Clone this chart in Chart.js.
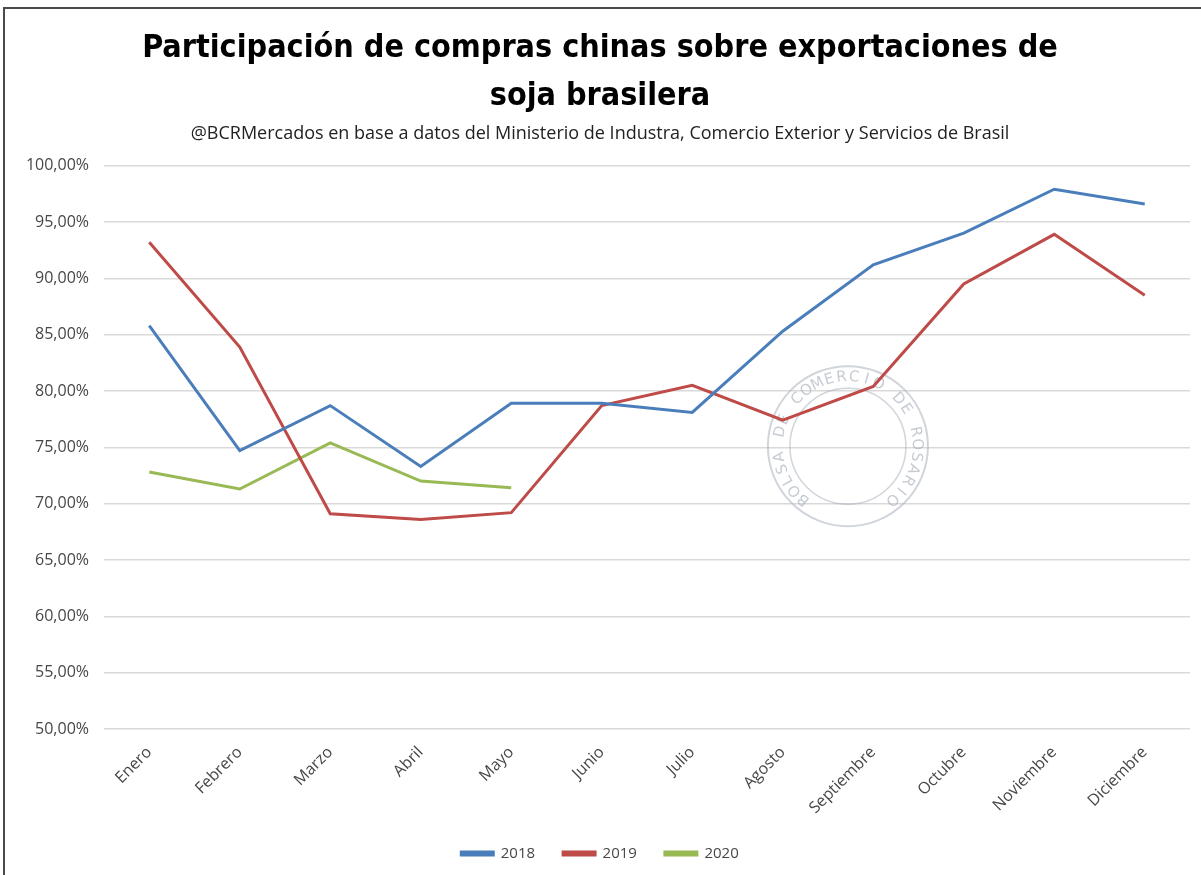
<!DOCTYPE html>
<html>
<head>
<meta charset="utf-8">
<script src="https://cdn.jsdelivr.net/npm/chart.js"></script>
<style>
  body { margin: 0; background: #fff; }
  #frame { position: absolute; left: 3px; top: 7px; width: 1400px; height: 1000px;
           border-left: 2px solid #4a4a4a; border-top: 2px solid #4a4a4a; }
  #wrap { position: absolute; left: 0; top: 0; width: 1201px; height: 875px; }
</style>
</head>
<body>
<div id="frame"></div>
<div id="wrap"><canvas id="myChart" width="1201" height="875"></canvas></div>
<script>
const meses = ["Enero","Febrero","Marzo","Abril","Mayo","Junio","Julio","Agosto","Septiembre","Octubre","Noviembre","Diciembre"];
const v2018 = [85.8,74.7,78.7,73.3,78.9,78.9,78.1,85.3,91.2,94.0,97.9,96.6];
const v2019 = [93.2,83.9,69.1,68.6,69.2,78.7,80.5,77.4,80.4,89.5,93.9,88.5];
const v2020 = [72.8,71.3,75.4,72.0,71.4];

const gris = "#474747";

// sello de agua de la Bolsa de Comercio
const sello = {
  id: "sello",
  beforeDatasetsDraw(chart) {
    const c = chart.ctx;
    const cx = chart.scales.x.getPixelForValue(7.72);
    const cy = chart.scales.y.getPixelForValue(75.1);
    c.save();
    c.strokeStyle = "rgba(170,178,190,0.55)";
    c.lineWidth = 2;
    c.beginPath(); c.arc(cx, cy, 80, 0, Math.PI * 2); c.stroke();
    c.lineWidth = 1.5;
    c.beginPath(); c.arc(cx, cy, 58, 0, Math.PI * 2); c.stroke();
    const txt = "BOLSA DE COMERCIO DE ROSARIO";
    c.fillStyle = "rgba(160,168,182,0.6)";
    c.font = "15px 'DejaVu Sans'";
    c.textAlign = "center"; c.textBaseline = "middle";
    const a0 = Math.PI * 0.72, a1 = Math.PI * 2.28;
    for (let i = 0; i < txt.length; i++) {
      const a = a0 + (a1 - a0) * i / (txt.length - 1);
      c.save();
      c.translate(cx + Math.cos(a) * 69, cy + Math.sin(a) * 69);
      c.rotate(a + Math.PI / 2);
      c.fillText(txt[i], 0, 0);
      c.restore();
    }
    c.restore();
  }
};

const ctx = document.getElementById("myChart").getContext("2d");
new Chart(ctx, {
  type: "line",
  data: {
    labels: meses,
    datasets: [
      { label: "2018", data: v2018, borderColor: "#4a7ebb", backgroundColor: "#4a7ebb" },
      { label: "2019", data: v2019, borderColor: "#be4b48", backgroundColor: "#be4b48" },
      { label: "2020", data: v2020, borderColor: "#98b954", backgroundColor: "#98b954" }
    ]
  },
  options: {
    responsive: false,
    animation: false,
    layout: { padding: { left: 10, right: 11, top: 17, bottom: 4 } },
    elements: {
      line: { borderWidth: 3, tension: 0 },
      point: { radius: 0 }
    },
    scales: {
      x: {
        offset: true,
        grid: { display: false },
        border: { display: false },
        ticks: { color: gris, font: { family: "'Open Sans'", size: 16 }, minRotation: 45, maxRotation: 45, padding: 6 },
        afterFit(s) { s.height = 89; }
      },
      y: {
        min: 50, max: 100,
        grid: { color: "#d9d9d9", lineWidth: 1.5, drawTicks: false },
        border: { display: false },
        ticks: {
          stepSize: 5, color: gris, padding: 15,
          font: { family: "'Open Sans'", size: 16 },
          callback: v => v.toFixed(2).replace(".", ",") + "%"
        },
        afterFit(s) { s.width = 94; }
      }
    },
    plugins: {
      title: {
        display: true,
        text: ["Participación de compras chinas sobre exportaciones de", "soja brasilera"],
        color: "#000",
        font: { family: "'Liberation Sans Narrow', 'DejaVu Sans Condensed', sans-serif", weight: "bold", size: 32, lineHeight: 1.5 },
        padding: { top: 8, bottom: 2 }
      },
      subtitle: {
        display: true,
        text: "@BCRMercados en base a datos del Ministerio de Industra, Comercio Exterior y Servicios de Brasil",
        color: "#222",
        font: { family: "'Open Sans'", size: 18 },
        padding: { top: 0, bottom: 21 }
      },
      legend: {
        position: "bottom",
        labels: { color: gris, font: { family: "'Open Sans'", size: 15 }, boxWidth: 32, boxHeight: 3, padding: 28 }
      },
      tooltip: { enabled: false }
    }
  },
  plugins: [sello]
});
</script>
</body>
</html>
